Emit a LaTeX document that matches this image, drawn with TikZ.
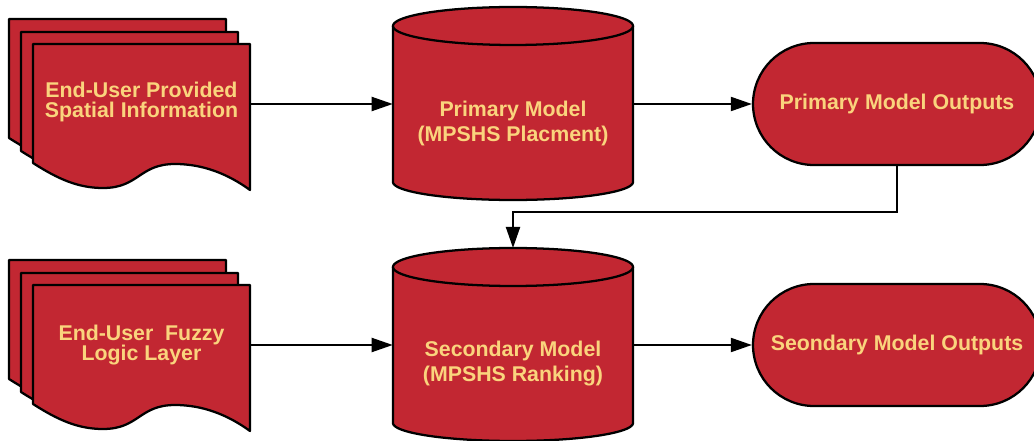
\documentclass[tikz,border=0pt]{standalone}
\usepackage{fontspec}
\setmainfont{Liberation Sans}
\usetikzlibrary{shapes.misc,arrows.meta}
\definecolor{boxred}{RGB}{194,39,50}
\definecolor{labelgold}{RGB}{250,212,125}
\tikzset{
  x=0.75pt, y=-0.75pt,
  shapeline/.style={draw=black, line width=1.7pt, fill=boxred, line join=round},
  lbl/.style={text=labelgold, font=\bfseries\fontsize{16}{15.5}\selectfont, align=center, inner sep=0pt},
  cyllbl/.style={lbl, font=\bfseries\fontsize{16}{18.75}\selectfont},
  arr/.style={draw=black, line width=1.5pt, -{Triangle[length=15.75pt,width=10.5pt]}},
  outbox/.style={rounded rectangle, shapeline, lbl, minimum width=216pt, minimum height=91.5pt},
  % one sheet of a stacked-document symbol, drawn from its top-left corner
  sheet/.pic={
    \path[shapeline] (0,0) -- (0,119)
      .. controls (25,135) and (45,144) .. (70,144)
      .. controls (106,144) and (106,120) .. (142,120)
      .. controls (170,120) and (195,130) .. (217,146)
      -- (217,0) -- cycle;
  },
  % database cylinder, drawn from the centre of its top ellipse
  dbcyl/.pic={
    \path[shapeline] (-120,0) -- (-120,156)
      -- plot[domain=180:0, samples=60, variable=\t] ({120*cos(\t)},{156+18*sin(\t)})
      -- (120,0)
      -- plot[domain=0:-180, samples=60, variable=\t] ({120*cos(\t)},{19*sin(\t)})
      -- cycle;
    \draw[line width=1.7pt] plot[domain=180:0, samples=60, variable=\t] ({120*cos(\t)},{19*sin(\t)});
  },
}
\begin{document}
\begin{tikzpicture}
\useasboundingbox (0,0) rectangle (1034,441);

% ---- top row ----
\pic at (9,19) {sheet};
\pic at (21,32) {sheet};
\pic at (33,44) {sheet};
\node[lbl, minimum width=162.75pt] (docA) at (141.5,102) {End-User Provided\\Spatial Information};

\pic at (513,26) {dbcyl};
\node[inner sep=0pt, minimum width=180pt, minimum height=117pt] (cylA) at (513,104) {};
\node[cyllbl] (cylAtext) at (513,123) {Primary Model\\(MPSHS Placment)};

\node[outbox] (outA) at (897,104) {Primary Model Outputs};

% ---- bottom row ----
\pic at (9,260) {sheet};
\pic at (21,273) {sheet};
\pic at (33,285) {sheet};
\node[lbl, minimum width=162.75pt] (docB) at (141.5,345) {End-User\ \ Fuzzy\\Logic Layer};

\pic at (513,267) {dbcyl};
\node[inner sep=0pt, minimum width=180pt, minimum height=117pt] (cylB) at (513,345) {};
\coordinate (cylBtop) at (513,248);
\node[cyllbl] (cylBtext) at (513,364) {Secondary Model\\(MPSHS Ranking)};

\node[outbox] (outB) at (897,345) {Seondary Model Outputs};

% ---- connectors ----
\draw[arr] (cylA.west -| docA.east) -- (cylA.west);
\draw[arr] (cylA.east) -- (outA.west);
\coordinate (turn) at (897,212);
\draw[arr] (outA.south) -- (turn) -| (cylBtop);
\draw[arr] (cylB.west -| docB.east) -- (cylB.west);
\draw[arr] (cylB.east) -- (outB.west);
\end{tikzpicture}
\end{document}
